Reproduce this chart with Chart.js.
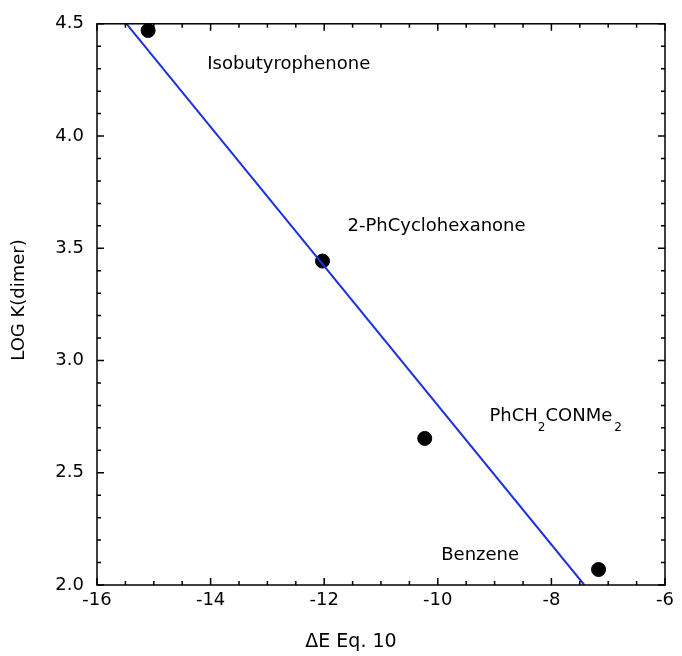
<!DOCTYPE html>
<html>
<head>
<meta charset="utf-8">
<script src="https://cdn.jsdelivr.net/npm/chart.js@4.4.0/dist/chart.umd.min.js"></script>
<style>
  body { margin: 0; background: #fff; }
  #wrap { width: 682px; height: 656px; }
</style>
</head>
<body>
<div id="wrap"><canvas id="chart" width="682" height="656"></canvas></div>
<script>
// measured points
const deltaE = [-15.10, -12.03, -10.23, -7.17];
const logK = [4.47, 3.443, 2.653, 2.069];
const compounds = ['Isobutyrophenone', '2-PhCyclohexanone', 'PhCH2CONMe2', 'Benzene'];

// label anchor positions (data coords, left edge / middle)
const labelX = [-14.06, -11.59, -9.09, -9.94];
const labelY = [4.32, 3.60, 2.75, 2.13];

// fit line, drawn between where it crosses the frame
const fitX = [-15.48, -7.42];
const fitY = [4.5, 2.0];

const xMajor = 2, yMajor = 0.5;
const FONT = '18px "DejaVu Sans"';

// frame, inward ticks, annotations, axis titles
const decorPlugin = {
    id: 'decor',
    afterDraw(chart) {
        const ctx = chart.ctx;
        const a = chart.chartArea;
        const xs = chart.scales.x, ys = chart.scales.y;
        ctx.save();
        ctx.strokeStyle = '#000';
        ctx.lineWidth = 1.5;
        ctx.strokeRect(a.left, a.top, a.right - a.left, a.bottom - a.top);

        ctx.beginPath();
        xs.ticks.forEach(t => {
            const px = xs.getPixelForValue(t.value);
            const isMajor = Math.abs(t.value / xMajor - Math.round(t.value / xMajor)) < 1e-6;
            const len = isMajor ? 7 : 4;
            ctx.moveTo(px, a.bottom); ctx.lineTo(px, a.bottom - len);
            ctx.moveTo(px, a.top); ctx.lineTo(px, a.top + len);
        });
        ys.ticks.forEach(t => {
            const py = ys.getPixelForValue(t.value);
            const isMajor = Math.abs(t.value / yMajor - Math.round(t.value / yMajor)) < 1e-6;
            const len = isMajor ? 7 : 4;
            ctx.moveTo(a.left, py); ctx.lineTo(a.left + len, py);
            ctx.moveTo(a.right, py); ctx.lineTo(a.right - len, py);
        });
        ctx.stroke();

        // compound labels
        ctx.fillStyle = '#000';
        ctx.font = FONT;
        ctx.textBaseline = 'middle';
        ctx.textAlign = 'left';
        compounds.forEach((name, i) => {
            const px = xs.getPixelForValue(labelX[i]);
            const py = ys.getPixelForValue(labelY[i]);
            if (name === 'PhCH2CONMe2') {
                // subscripted formula
                let x = px;
                const parts = [['PhCH', false], ['2', true], ['CONMe', false], ['2', true]];
                parts.forEach(([s, sub], k) => {
                    ctx.font = sub ? '12px "DejaVu Sans"' : FONT;
                    if (sub && k === 3) x += 2;
                    ctx.fillText(s, x, sub ? py + 11 : py);
                    x += ctx.measureText(s).width;
                });
                ctx.font = FONT;
            } else {
                ctx.fillText(name, px, py);
            }
        });

        // axis titles
        ctx.textAlign = 'center';
        ctx.font = '19px "DejaVu Sans"';
        ctx.fillText('\u0394E Eq. 10', 351, 642);
        ctx.font = FONT;
        ctx.translate(19, 300);
        ctx.rotate(-Math.PI / 2);
        ctx.fillText('LOG K(dimer)', 0, 0);
        ctx.restore();
    }
};

const ctx = document.getElementById('chart').getContext('2d');
new Chart(ctx, {
    type: 'scatter',
    data: {
        datasets: [
            {
                label: 'fit',
                type: 'line',
                data: fitX.map((x, i) => ({ x: x, y: fitY[i] })),
                borderColor: 'rgb(28, 50, 220)',
                borderWidth: 2,
                pointRadius: 0,
                fill: false,
                tension: 0
            },
            {
                label: 'log K',
                data: deltaE.map((x, i) => ({ x: x, y: logK[i] })),
                backgroundColor: '#000',
                borderColor: '#000',
                pointRadius: 7,
                clip: false
            }
        ]
    },
    options: {
        responsive: false,
        animation: false,
        layout: { padding: { top: 18, right: 17, left: 0, bottom: 0 } },
        plugins: {
            legend: { display: false },
            tooltip: { enabled: false }
        },
        scales: {
            x: {
                type: 'linear',
                min: -16,
                max: -6,
                grid: { display: false, drawTicks: false },
                border: { display: false },
                ticks: {
                    stepSize: 0.5,
                    autoSkip: false,
                    maxRotation: 0,
                    padding: 5,
                    color: '#000',
                    font: { family: 'DejaVu Sans', size: 18 },
                    callback: v => (Math.abs(v / xMajor - Math.round(v / xMajor)) < 1e-6 ? String(v) : '')
                },
                afterFit: s => { s.height = 71; }
            },
            y: {
                type: 'linear',
                min: 2.0,
                max: 4.5,
                grid: { display: false, drawTicks: false },
                border: { display: false },
                ticks: {
                    stepSize: 0.1,
                    autoSkip: false,
                    padding: 13,
                    color: '#000',
                    font: { family: 'DejaVu Sans', size: 18 },
                    callback: v => (Math.abs(v / yMajor - Math.round(v / yMajor)) < 1e-6 ? v.toFixed(1) : '')
                },
                afterFit: s => { s.width = 97; }
            }
        }
    },
    plugins: [decorPlugin]
});
</script>
</body>
</html>
